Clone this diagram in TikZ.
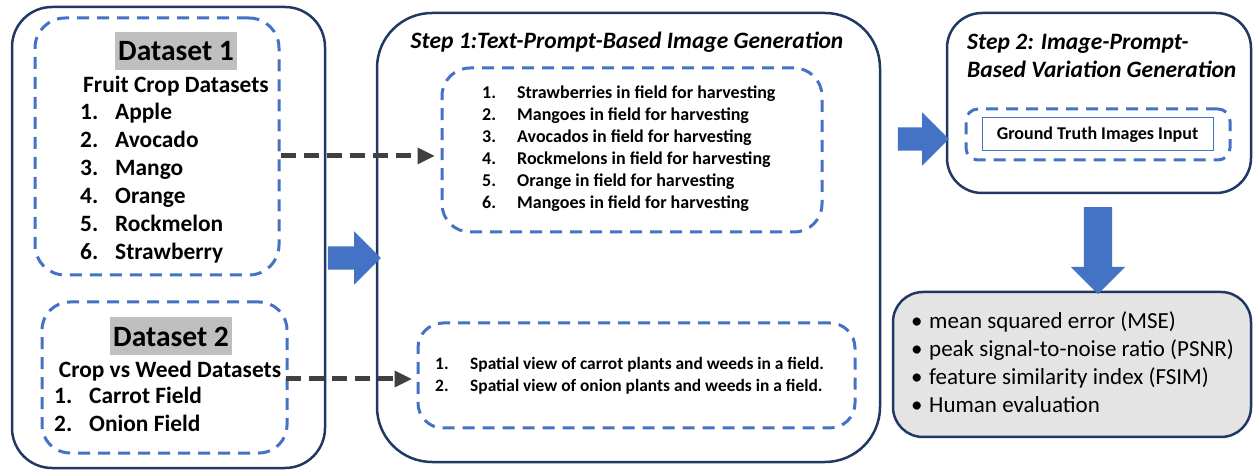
\documentclass[tikz,border=0pt]{standalone}
\usepackage{fontspec}
\setmainfont{Carlito}
\usetikzlibrary{arrows.meta,shapes.arrows}
\definecolor{navy}{HTML}{1F3864}
\definecolor{dblue}{HTML}{4472C4}
\definecolor{dgray}{HTML}{404040}
\definecolor{hlgray}{HTML}{BFBFBF}
\definecolor{boxgray}{HTML}{E4E4E4}
\begin{document}
\begin{tikzpicture}[x=1pt,y=-1pt,
  outerbox/.style={draw=navy,line width=2.5pt,rectangle,inner sep=0pt},
  dashbox/.style={draw=dblue,line width=3pt,dash pattern=on 12pt off 8pt,rectangle,inner sep=0pt},
  dasharrow/.style={draw=dgray,line width=5pt,dash pattern=on 15pt off 8pt,-{Triangle[length=17pt,width=17pt,line width=0pt]}},
  blockarrow/.style={single arrow,fill=dblue,draw=none,inner xsep=0pt,inner ysep=11.5pt,single arrow head extend=15pt},
  hl/.style={font=\fontsize{29.5}{32}\selectfont\bfseries,fill=hlgray,inner sep=0pt,minimum height=38pt},
  bfbig/.style={font=\fontsize{23.4}{28}\selectfont\bfseries,inner sep=0pt},
  bfsmall/.style={font=\fontsize{18}{22}\selectfont\bfseries,inner sep=0pt},
  titlefont/.style={font=\fontsize{23.5}{28}\selectfont\bfseries\itshape,inner sep=0pt},
  rgbig/.style={font=\fontsize{23}{28}\selectfont,inner sep=0pt}]
\useasboundingbox (0,0) rectangle (1254,470);

% outer boxes
\node[outerbox,rounded corners=40pt,minimum width=313pt,minimum height=461pt] (left) at (168.5,237.5) {};
\node[outerbox,rounded corners=55pt,minimum width=503pt,minimum height=449pt] (mid) at (628.5,237.5) {};
\node[outerbox,rounded corners=35pt,minimum width=304pt,minimum height=180pt] (s2) at (1099,103) {};
\node[outerbox,rounded corners=30pt,minimum width=358pt,minimum height=145pt,fill=boxgray] (met) at (1072,364.5) {};

% dashed inner boxes
\node[dashbox,rounded corners=30pt,minimum width=244pt,minimum height=257pt] (d1) at (157,146.5) {};
\node[dashbox,rounded corners=28pt,minimum width=245pt,minimum height=151pt] (d2) at (164.5,377.5) {};
\node[dashbox,rounded corners=28pt,minimum width=380pt,minimum height=164pt] (p1) at (632,150) {};
\node[dashbox,rounded corners=25pt,minimum width=437pt,minimum height=105pt] (p2) at (636.5,375.5) {};
\node[dashbox,rounded corners=12pt,minimum width=264pt,minimum height=51pt] (gd) at (1098,134.5) {};
\node[draw=dblue,line width=1pt,inner sep=0pt,minimum width=231pt,minimum height=33pt] (gt) at (1097.5,134.5) {};

% dashed connectors
\draw[dasharrow] (d1.east |- 0,156) -- ([xshift=-6pt]p1.west |- 0,156);
\draw[dasharrow] ([xshift=-3pt]d2.east |- 0,379) -- ([xshift=-5pt]p2.west |- 0,379);

% block arrows
\node[blockarrow,minimum height=53pt] (a1) at (348.5,258) {};
\node[blockarrow,minimum height=51pt] (a2) at (917.5,139) {};
\node[blockarrow,minimum height=87pt,inner ysep=14pt,single arrow head extend=13pt,rotate=-90] (a3) at (1098,243.5) {};

% texts left
\node[hl,minimum width=122pt] (t1) at (176,51) {Dataset 1};
\node[bfbig] (f1) at (176,86) {Fruit Crop Datasets};
\node[bfbig,anchor=west] (l1) at (80,183.5) {\begin{tabular}{@{}p{35pt}@{}l@{}}1.&Apple\\2.&Avocado\\3.&Mango\\4.&Orange\\5.&Rockmelon\\6.&Strawberry\end{tabular}};
\node[hl,minimum width=122pt] (t2) at (171,336.5) {Dataset 2};
\node[bfbig] (f2) at (170,371) {Crop vs Weed Datasets};
\node[bfbig,anchor=west] (l2) at (54,412) {\begin{tabular}{@{}p{35pt}@{}l@{}}1.&Carrot Field\\2.&Onion Field\end{tabular}};

% texts middle
\node[titlefont] (st1) at (627,42) {Step 1:Text-Prompt-Based Image Generation};
\node[bfsmall,anchor=west] (l3) at (482,149.5) {\begin{tabular}{@{}p{35pt}@{}l@{}}1.&Strawberries in field for harvesting\\2.&Mangoes in field for harvesting\\3.&Avocados in field for harvesting\\4.&Rockmelons in field for harvesting\\5.&Orange in field for harvesting\\6.&Mangoes in field for harvesting\end{tabular}};
\node[bfsmall,font=\fontsize{17.4}{22}\selectfont\bfseries,anchor=west] (l4) at (435,376) {\begin{tabular}{@{}p{35pt}@{}l@{}}1.&Spatial view of carrot plants and weeds in a field.\\2.&Spatial view of onion plants and weeds in a field.\end{tabular}};

% texts right
\node[titlefont,anchor=west,align=left] (st2) at (967,56) {Step 2: Image-Prompt-\\Based Variation Generation};
\node[bfsmall] (gtt) at (gt) {Ground Truth Images Input};
\node[rgbig,anchor=west] (l5) at (911,365) {\begin{tabular}{@{}p{18pt}@{}l@{}}•&mean squared error (MSE)\\•&peak signal-to-noise ratio (PSNR)\\•&feature similarity index (FSIM)\\•&Human evaluation\end{tabular}};
\end{tikzpicture}
\end{document}
